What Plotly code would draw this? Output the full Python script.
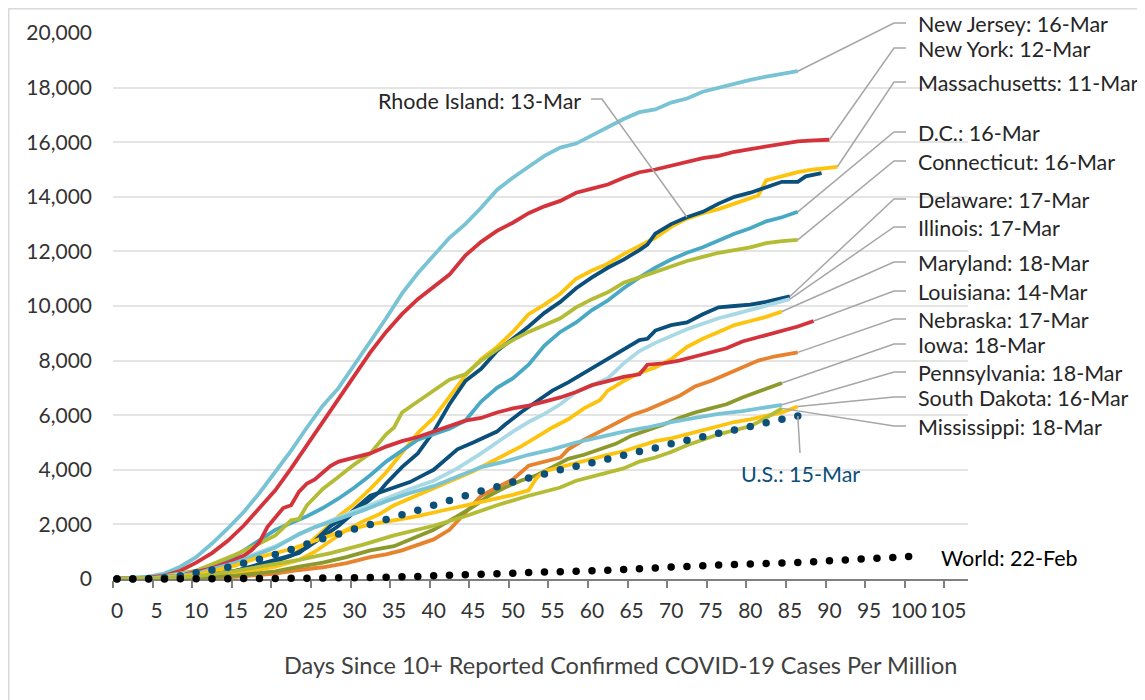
import plotly.graph_objects as go

# ---- data: cases per million, by days since 10+ cases per million ----
NJ_DAYS = [0, 2, 4, 6, 8, 10, 12, 14, 16, 18, 20, 22, 24, 26, 28, 30, 32, 34, 36, 38, 40, 42, 44,
           46, 48, 50, 52, 54, 56, 58, 60, 62, 64, 66, 68, 70, 72, 74, 76, 78, 80, 82, 84, 86]
NJ = [10, 40, 90, 200, 450, 800, 1300, 1850, 2450, 3150, 3900, 4700, 5550, 6350, 7000, 7850, 8650,
      9550, 10450, 11200, 11850, 12500, 13000, 13600, 14250, 14700, 15100, 15500, 15800, 15950,
      16250, 16550, 16850, 17100, 17200, 17450, 17600, 17850, 18000, 18150, 18280, 18400, 18500, 18600]

NY_DAYS = [0, 2, 4, 6, 8, 10, 12, 14, 16, 18, 20, 22, 24, 26, 28, 30, 32, 34, 36, 38, 40, 42, 44,
           46, 48, 50, 52, 54, 56, 58, 60, 62, 64, 66, 68, 70, 72, 74, 76, 78, 80, 82, 84, 86, 88, 90]
NY = [10, 20, 50, 120, 300, 600, 950, 1400, 1950, 2600, 3250, 4050, 4900, 5750, 6600, 7500, 8300,
      9050, 9700, 10250, 10700, 11150, 11850, 12350, 12750, 13050, 13400, 13650, 13850, 14150,
      14300, 14450, 14700, 14900, 15000, 15150, 15300, 15420, 15500, 15650, 15750, 15850, 15950,
      16030, 16070, 16090]

MA_DAYS = [0, 5, 10, 15, 18, 20, 22, 24, 26, 28, 30, 32, 34, 36, 38, 40, 42, 44, 46, 48, 50, 52,
           54, 56, 58, 60, 62, 64, 66, 68, 70, 72, 74, 76, 78, 80, 81, 82, 84, 86, 88, 90, 91]
MA = [5, 30, 120, 300, 500, 650, 850, 1250, 1750, 2300, 2750, 3300, 3900, 4650, 5350, 5900, 6650,
      7450, 8050, 8500, 9050, 9700, 10050, 10450, 11000, 11300, 11550, 11900, 12200, 12500, 12900,
      13200, 13400, 13550, 13750, 13950, 14050, 14600, 14750, 14900, 15000, 15080, 15100]

RI_DAYS = [0, 5, 10, 15, 18, 20, 22, 24, 26, 28, 30, 32, 33, 34, 36, 38, 40, 42, 44, 46, 48, 50,
           52, 54, 56, 58, 60, 62, 64, 66, 67, 68, 70, 72, 74, 76, 78, 80, 82, 84, 86, 87, 89]
RI = [5, 20, 100, 300, 500, 650, 850, 1150, 1550, 1950, 2450, 2900, 3150, 3500, 4100, 4600, 5400,
      6400, 7250, 7700, 8350, 8800, 9250, 9750, 10150, 10650, 11050, 11400, 11700, 12050, 12250,
      12650, 13000, 13250, 13450, 13750, 14000, 14150, 14350, 14550, 14550, 14750, 14870]

DC_DAYS = [0, 5, 10, 13, 15, 18, 20, 22, 24, 26, 28, 30, 32, 34, 36, 38, 40, 42, 44, 46, 48, 50,
           52, 54, 56, 58, 60, 62, 64, 66, 68, 70, 72, 74, 76, 78, 80, 82, 84, 86]
DC = [5, 40, 300, 600, 850, 1400, 1800, 2050, 2300, 2600, 2950, 3350, 3800, 4300, 4700, 5100, 5300,
      5500, 5800, 6500, 7000, 7350, 7850, 8550, 9050, 9400, 9850, 10200, 10650, 11050, 11400,
      11700, 11950, 12150, 12400, 12650, 12850, 13100, 13250, 13450]

CT_DAYS = [0, 5, 10, 15, 18, 20, 22, 23, 24, 26, 28, 30, 32, 34, 35, 36, 38, 40, 42, 44, 46, 48,
           50, 52, 54, 56, 58, 60, 62, 64, 66, 68, 70, 72, 74, 76, 78, 80, 82, 84, 86]
CT = [5, 60, 300, 900, 1300, 1600, 2150, 2200, 2700, 3300, 3750, 4200, 4600, 5300, 5550, 6100, 6500,
      6900, 7300, 7500, 8000, 8400, 8750, 9050, 9300, 9550, 9950, 10250, 10500, 10850, 11050,
      11250, 11450, 11650, 11800, 11950, 12050, 12150, 12300, 12380, 12420]

DE_DAYS = [0, 5, 10, 15, 20, 23, 25, 27, 29, 31, 32, 33, 35, 37, 39, 40, 41, 43, 45, 47, 48, 49,
           51, 53, 55, 57, 59, 61, 63, 65, 66, 67, 68, 70, 72, 74, 76, 78, 80, 82, 84, 85]
DE = [5, 20, 100, 300, 700, 950, 1400, 1950, 2300, 2800, 3050, 3150, 3350, 3550, 3850, 4000, 4250,
      4750, 5000, 5250, 5400, 5650, 6100, 6500, 6900, 7200, 7550, 7900, 8250, 8600, 8750, 8800,
      9100, 9300, 9400, 9700, 9950, 10000, 10050, 10150, 10300, 10350]

IL_DAYS = [0, 5, 10, 15, 20, 23, 25, 28, 31, 34, 37, 40, 43, 46, 48, 50, 52, 54, 56, 58, 60, 62,
           64, 66, 68, 70, 72, 74, 76, 78, 80, 82, 84, 85]
IL = [5, 50, 250, 650, 1200, 1600, 1900, 2250, 2600, 2950, 3300, 3600, 4050, 4600, 5000, 5400,
      5750, 6050, 6400, 6850, 7100, 7350, 7900, 8350, 8650, 8900, 9150, 9350, 9550, 9700, 9850,
      10000, 10150, 10250]

MD_DAYS = [0, 5, 10, 15, 20, 23, 25, 27, 29, 31, 33, 35, 37, 39, 41, 43, 45, 47, 49, 51, 53, 55,
           57, 59, 61, 62, 64, 66, 68, 70, 72, 74, 76, 78, 80, 82, 84]
MD = [5, 20, 60, 200, 450, 700, 1000, 1400, 1800, 2100, 2350, 2700, 2950, 3200, 3450, 3700, 3950,
      4250, 4550, 4850, 5200, 5550, 5850, 6250, 6550, 6900, 7250, 7550, 7750, 8050, 8500, 8800,
      9050, 9300, 9450, 9600, 9800]

LA_DAYS = [0, 4, 8, 10, 12, 14, 16, 17, 18, 19, 20, 21, 22, 23, 24, 25, 26, 27, 28, 30, 32, 34, 36,
           38, 40, 42, 44, 46, 48, 50, 52, 54, 56, 58, 60, 62, 64, 66, 67, 69, 71, 73, 75, 77, 79,
           81, 83, 85, 86, 88]
LA = [5, 30, 120, 250, 400, 600, 850, 1050, 1350, 1900, 2250, 2600, 2700, 3200, 3500, 3650, 3900,
      4150, 4300, 4450, 4600, 4850, 5050, 5200, 5400, 5600, 5800, 5900, 6100, 6250, 6350, 6500,
      6650, 6850, 7100, 7250, 7400, 7500, 7850, 7900, 8000, 8150, 8300, 8450, 8700, 8850, 9000,
      9150, 9250, 9450]

NE_DAYS = [0, 5, 10, 15, 20, 23, 26, 29, 32, 34, 36, 38, 40, 42, 44, 46, 48, 50, 52, 54, 56, 57,
           59, 61, 63, 65, 67, 69, 71, 73, 75, 77, 79, 81, 83, 85, 86]
NE = [2, 10, 30, 80, 200, 330, 430, 580, 800, 900, 1050, 1250, 1450, 1800, 2450, 3050, 3350, 3650,
      4150, 4300, 4450, 4750, 5100, 5400, 5700, 6000, 6200, 6450, 6700, 7050, 7250, 7500, 7750,
      8000, 8150, 8250, 8300]

IA_DAYS = [0, 5, 10, 15, 20, 23, 26, 29, 32, 35, 37, 40, 43, 45, 47, 49, 51, 53, 55, 57, 59, 61,
           63, 65, 67, 69, 71, 73, 75, 77, 79, 81, 84]
IA = [2, 15, 50, 120, 280, 450, 600, 800, 1050, 1200, 1450, 1800, 2300, 2650, 3050, 3350, 3600,
      3800, 4100, 4400, 4550, 4750, 4950, 5250, 5450, 5650, 5900, 6100, 6250, 6400, 6650, 6850, 7180]

PA_DAYS = [0, 5, 10, 15, 20, 23, 25, 28, 31, 34, 37, 40, 43, 46, 49, 52, 55, 58, 61, 64, 67, 70,
           73, 76, 79, 82, 84]
PA = [5, 40, 200, 600, 1150, 1650, 1900, 2200, 2500, 2850, 3150, 3400, 3750, 4100, 4300, 4550,
      4750, 5000, 5200, 5400, 5550, 5750, 5900, 6050, 6150, 6280, 6380]

SD_DAYS = [0, 5, 10, 15, 18, 20, 22, 24, 26, 28, 30, 32, 35, 38, 41, 44, 47, 50, 52, 53, 54, 56,
           58, 60, 62, 64, 66, 68, 70, 72, 74, 76, 78, 80, 82, 84, 86]
SD = [3, 20, 150, 500, 800, 950, 1100, 1300, 1500, 1700, 1850, 2000, 2150, 2300, 2500, 2700, 2900,
      3080, 3250, 3700, 3950, 4100, 4250, 4420, 4550, 4680, 4850, 5050, 5150, 5300, 5480, 5630,
      5750, 5850, 5980, 6100, 6320]

MS_DAYS = [0, 5, 10, 15, 20, 23, 27, 31, 35, 40, 44, 48, 52, 56, 58, 60, 62, 64, 66, 68, 70, 72,
           74, 76, 78, 80, 82, 84]
MS = [3, 20, 100, 300, 550, 700, 950, 1250, 1600, 1950, 2300, 2700, 3050, 3350, 3600, 3750, 3900,
      4050, 4300, 4450, 4650, 4900, 5100, 5300, 5450, 5600, 5900, 6250]

US_DAYS = [0, 2, 4, 6, 8, 10, 12, 14, 16, 18, 20, 22, 24, 26, 28, 30, 32, 34, 36, 38, 40, 42, 44,
           46, 48, 50, 52, 54, 56, 58, 60, 62, 64, 66, 68, 70, 72, 74, 76, 78, 80, 82, 84, 86]
US = [5, 10, 20, 50, 120, 230, 330, 430, 580, 720, 900, 1080, 1280, 1470, 1650, 1830, 2000, 2180,
      2350, 2520, 2700, 2880, 3050, 3220, 3380, 3550, 3700, 3850, 4000, 4130, 4260, 4400, 4530,
      4670, 4800, 4950, 5080, 5210, 5340, 5460, 5590, 5720, 5850, 5970]

WORLD_DAYS = [0, 2, 4, 6, 8, 10, 12, 14, 16, 18, 20, 22, 24, 26, 28, 30, 32, 34, 36, 38, 40, 42,
              44, 46, 48, 50, 52, 54, 56, 58, 60, 62, 64, 66, 68, 70, 72, 74, 76, 78, 80, 82, 84,
              86, 88, 90, 92, 94, 96, 98, 100]
WORLD = [0, 0, 2, 4, 6, 8, 10, 13, 16, 19, 22, 26, 30, 35, 42, 50, 58, 68, 80, 95, 115, 135, 155,
         175, 195, 215, 235, 255, 270, 285, 300, 318, 345, 375, 405, 435, 460, 488, 510, 530, 548,
         565, 585, 605, 635, 665, 700, 730, 760, 790, 825]

X_TICK_LABELS = ['0', '5', '10', '15', '20', '25', '30', '35', '40', '45', '50', '55', '60', '65',
                 '70', '75', '80', '85', '90', '95', '100', '105']
Y_TICKS = [0, 2000, 4000, 6000, 8000, 10000, 12000, 14000, 16000, 18000, 20000]

# ---- colours ----
LIGHT_BLUE = '#78c3d4'
RED = '#d5333b'
GOLD = '#fdc40f'
NAVY = '#0b4f7b'
TEAL = '#49a9c4'
LIME = '#b3bc34'
PALE = '#a9d9e5'
ORANGE = '#e7832e'
OLIVE = '#8c9a2c'

# name, days, values, colour, label, label centre y (page px)
SERIES = [
    ('New Jersey', NJ_DAYS, NJ, LIGHT_BLUE, 'New Jersey: 16-Mar', 24),
    ('New York', NY_DAYS, NY, RED, 'New York: 12-Mar', 49),
    ('Massachusetts', MA_DAYS, MA, GOLD, 'Massachusetts: 11-Mar', 83),
    ('Rhode Island', RI_DAYS, RI, NAVY, None, None),
    ('D.C.', DC_DAYS, DC, TEAL, 'D.C.: 16-Mar', 133),
    ('Connecticut', CT_DAYS, CT, LIME, 'Connecticut: 16-Mar', 162),
    ('Delaware', DE_DAYS, DE, NAVY, 'Delaware: 17-Mar', 200),
    ('Illinois', IL_DAYS, IL, PALE, 'Illinois: 17-Mar', 228),
    ('Maryland', MD_DAYS, MD, GOLD, 'Maryland: 18-Mar', 263),
    ('Louisiana', LA_DAYS, LA, RED, 'Louisiana: 14-Mar', 292),
    ('Nebraska', NE_DAYS, NE, ORANGE, 'Nebraska: 17-Mar', 320),
    ('Iowa', IA_DAYS, IA, OLIVE, 'Iowa: 18-Mar', 345),
    ('Pennsylvania', PA_DAYS, PA, LIGHT_BLUE, 'Pennsylvania: 18-Mar', 373),
    ('South Dakota', SD_DAYS, SD, GOLD, 'South Dakota: 16-Mar', 398),
    ('Mississippi', MS_DAYS, MS, LIME, 'Mississippi: 18-Mar', 427),
]

# ---- geometry ----
# the page body has an 8px margin, so the figure is drawn 8px in and 8px down
PAGE_OFF = 8
FIG_W, FIG_H = 1137, 692
M_L, M_R, M_T, M_B = 105, 177, 25, 121
PLOT_W = FIG_W - M_L - M_R
PLOT_H = FIG_H - M_T - M_B
X_RANGE = [-0.5, 107.5]
Y_RANGE = [0, 20000]
LABEL_X = 916
FONT = 'Lato'
TEXT = '#262626'
LEADER = '#a6a6a6'


def to_px(x, y):
    # data -> page pixels
    px = M_L + (x - X_RANGE[0]) / (X_RANGE[1] - X_RANGE[0]) * PLOT_W
    py = M_T + (1 - (y - Y_RANGE[0]) / (Y_RANGE[1] - Y_RANGE[0])) * PLOT_H
    return px + PAGE_OFF, py + PAGE_OFF


def paper(px, py):
    # page pixels -> paper coordinates
    px -= PAGE_OFF
    py -= PAGE_OFF
    return (px - M_L) / PLOT_W, 1 - (py - M_T) / PLOT_H


def leader(points):
    pts = [paper(px, py) for px, py in points]
    path = 'M ' + ' L '.join(f'{x:.5f},{y:.5f}' for x, y in pts)
    return dict(type='path', path=path, xref='paper', yref='paper',
                line=dict(color=LEADER, width=1.5))


fig = go.Figure()

for name, days, vals, color, label, ly in SERIES:
    fig.add_trace(go.Scatter(
        x=days, y=vals, mode='lines', name=name,
        line=dict(color=color, width=3.8),
        showlegend=False
    ))

fig.add_trace(go.Scatter(
    x=US_DAYS, y=US, mode='markers', name='U.S.',
    marker=dict(color=NAVY, size=7.5), showlegend=False, cliponaxis=False
))
fig.add_trace(go.Scatter(
    x=WORLD_DAYS, y=WORLD, mode='markers', name='World',
    marker=dict(color='black', size=7.5), showlegend=False, cliponaxis=False
))

shapes = []
annotations = []

# right-hand labels with elbow leaders
for name, days, vals, color, label, ly in SERIES:
    if label is None:
        continue
    end = to_px(days[-1], vals[-1])
    shapes.append(leader([end, (LABEL_X - 22, ly - 1), (LABEL_X - 10, ly - 1)]))
    lx, lyp = paper(LABEL_X, ly)
    annotations.append(dict(x=lx, y=lyp, xref='paper', yref='paper', text=label,
                            showarrow=False, xanchor='left', yanchor='middle',
                            font=dict(family=FONT, size=21.5, color=TEXT)))

# Rhode Island label sits on the left, pointing at day 72
i72 = RI_DAYS.index(72)
ri_pt = to_px(RI_DAYS[i72], RI[i72])
shapes.append(leader([ri_pt, (602, 99), (591, 99)]))
x0, y0 = paper(583, 101)
annotations.append(dict(x=x0, y=y0, xref='paper', yref='paper', text='Rhode Island: 13-Mar',
                        showarrow=False, xanchor='right', yanchor='middle',
                        font=dict(family=FONT, size=21.5, color=TEXT)))

# U.S. label below its last dot
us_end = to_px(US_DAYS[-1], US[-1])
shapes.append(leader([us_end, (800, 453)]))
x0, y0 = paper(800, 474)
annotations.append(dict(x=x0, y=y0, xref='paper', yref='paper', text='U.S.: 15-Mar',
                        showarrow=False, xanchor='center', yanchor='middle',
                        font=dict(family=FONT, size=21.5, color=NAVY)))

# World label
x0, y0 = paper(939, 558)
annotations.append(dict(x=x0, y=y0, xref='paper', yref='paper', text='World: 22-Feb',
                        showarrow=False, xanchor='left', yanchor='middle',
                        font=dict(family=FONT, size=21.5, color='black')))

# axis title
x0, y0 = paper(620, 665)
annotations.append(dict(x=x0, y=y0, xref='paper', yref='paper',
                        text='Days Since 10+ Reported Confirmed COVID-19 Cases Per Million',
                        showarrow=False, xanchor='center', yanchor='middle',
                        font=dict(family=FONT, size=23.5, color='#404040')))

# outer chart border
bx0, by0 = paper(8.5, 8.5)
bx1, by1 = paper(1200, 760)
shapes.append(dict(type='rect', xref='paper', yref='paper', x0=bx0, y0=by0, x1=bx1, y1=by1,
                   line=dict(color='#d9d9d9', width=2), layer='below'))

fig.update_layout(
    width=FIG_W, height=FIG_H,
    margin=dict(l=M_L, r=M_R, t=M_T, b=M_B, autoexpand=False),
    paper_bgcolor='white', plot_bgcolor='white',
    font=dict(family=FONT, size=21, color='#333333'),
    xaxis=dict(
        range=X_RANGE,
        tickmode='array',
        tickvals=[v - 0.5 for v in range(0, 106, 5)],
        ticktext=X_TICK_LABELS,
        ticklabelshift=4,
        ticklabelstandoff=5,
        ticks='outside', ticklen=7, tickwidth=2, tickcolor='#808080',
        showline=True, linecolor='#808080', linewidth=2,
        showgrid=False, zeroline=False,
        layer='below traces',
        tickfont=dict(family=FONT, size=21, color='#333333')
    ),
    yaxis=dict(
        range=Y_RANGE,
        tickmode='array',
        tickvals=Y_TICKS,
        tickformat=',d',
        showgrid=True, gridcolor='#e4e4e4', gridwidth=1.5,
        zeroline=False, showline=False,
        ticklabelstandoff=20,
        tickfont=dict(family=FONT, size=21, color='#333333')
    ),
    shapes=shapes,
    annotations=annotations,
    showlegend=False
)

fig.write_html('out.html')
